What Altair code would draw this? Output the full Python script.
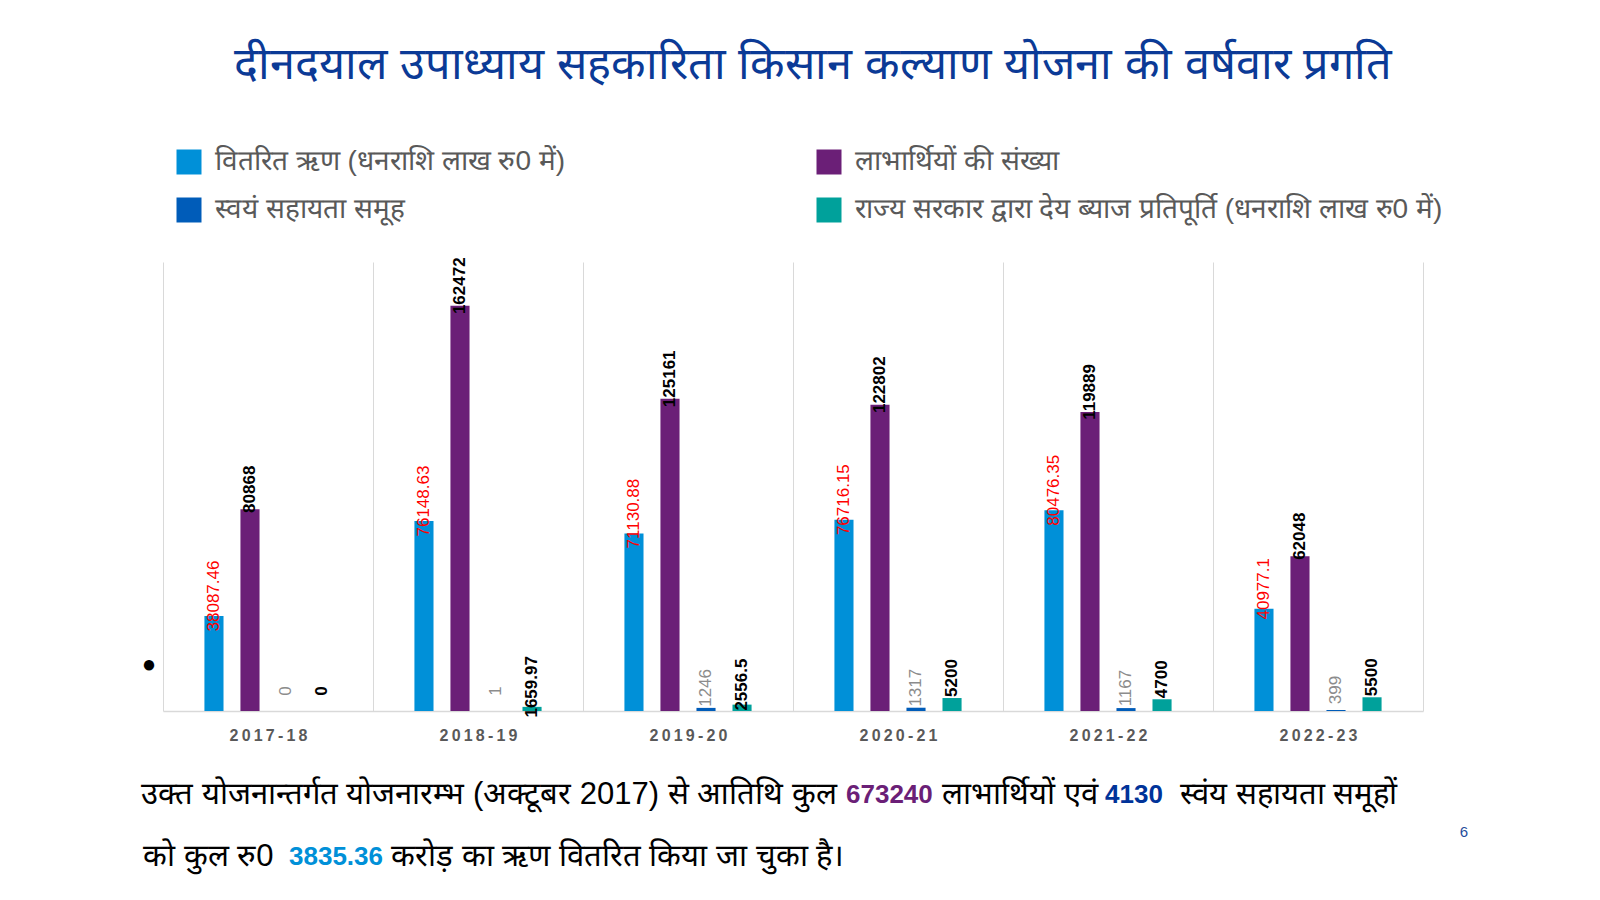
import altair as alt
import pandas as pd

years = ["2017-18", "2018-19", "2019-20", "2020-21", "2021-22", "2022-23"]
series_names = [
    "वितरित ऋण (धनराशि लाख रु0 में)",
    "लाभार्थियों की संख्या",
    "स्वयं सहायता समूह",
    "राज्य सरकार द्वारा देय ब्याज प्रतिपूर्ति (धनराशि लाख रु0 में)",
]
loan_disbursed = [38087.46, 76148.63, 71130.88, 76716.15, 80476.35, 40977.1]
beneficiaries = [80868, 162472, 125161, 122802, 119889, 62048]
shg_count = [0, 1, 1246, 1317, 1167, 399]
interest_reimb = [0, 1659.97, 2556.5, 5200, 4700, 5500]

series_colors = ["#0090d8", "#6b1f77", "#005cb9", "#00a19b"]
label_colors = ["#ff0000", "#000000", "#8c8c8c", "#000000"]
label_weights = ["normal", "bold", "normal", "bold"]

title_text = "दीनदयाल उपाध्याय सहकारिता किसान कल्याण योजना की वर्षवार प्रगति"
note1_a = "उक्त योजनान्तर्गत योजनारम्भ (अक्टूबर 2017) से आतिथि कुल"
note1_b = "673240"
note1_c = "लाभार्थियों एवं"
note1_d = "4130"
note1_e = "स्वंय सहायता समूहों"
note2_a = "को कुल रु0"
note2_b = "3835.36"
note2_c = "करोड़ का ऋण वितरित किया जा चुका है।"
page_no = "6"

all_values = [loan_disbursed, beneficiaries, shg_count, interest_reimb]
rows = []
for s, vals in zip(series_names, all_values):
    for y, v in zip(years, vals):
        rows.append({"year": y, "series": s, "value": v, "label": str(v)})
df = pd.DataFrame(rows)

W, H = 1260, 449
FONT = "Liberation Sans"

x_enc = alt.X(
    "year:N", sort=years, title=None,
    scale=alt.Scale(paddingInner=0, paddingOuter=0),
    axis=alt.Axis(
        labelFont=FONT, labelFontSize=16, labelFontWeight="bold", labelColor="#595959",
        labelPadding=16, labelAngle=0, ticks=False, domainColor="#d9d9d9", domainWidth=1.5,
        grid=True, gridColor="#d9d9d9", gridWidth=1, tickBand="extent",
        labelExpr="join(split(datum.label, ''), '\u2009')",
    ),
)
# empty slots either side of each group of four bars
offset_domain = ["_gap_left"] + series_names + ["_gap_right"]
xoff = alt.XOffset("series:N",
                   scale=alt.Scale(domain=offset_domain, paddingInner=0.47, paddingOuter=0.15))
y_enc = alt.Y("value:Q", scale=alt.Scale(domain=[0, 180000]), axis=None)

base = alt.Chart(df)
bars = base.mark_bar().encode(
    x=x_enc, xOffset=xoff, y=y_enc,
    color=alt.Color(
        "series:N", sort=series_names,
        scale=alt.Scale(domain=series_names, range=series_colors),
        legend=alt.Legend(
            orient="none", legendX=12, legendY=-114, columns=2, title=None,
            direction="horizontal",
            symbolType="square", symbolSize=625, symbolStrokeWidth=0, symbolOpacity=1,
            labelFontSize=28, labelColor="#595959", labelLimit=900, labelOffset=12,
            columnPadding=249, rowPadding=20,
        ),
    ),
)

layers = [bars]
for i, s in enumerate(series_names):
    layers.append(
        base.transform_filter(alt.datum.series == s).mark_text(
            angle=270, align="center", baseline="middle", dx=20, fontSize=17,
            font=FONT, fontWeight=label_weights[i], color=label_colors[i],
        ).encode(x=x_enc, xOffset=xoff, y=y_enc, text="label:N")
    )


def txt(text, x, y, size, color, align="left", weight="normal", font=None):
    kw = {}
    if font:
        kw["font"] = font
    return alt.Chart(pd.DataFrame({"t": [text]})).mark_text(
        align=align, baseline="middle", fontSize=size, color=color, fontWeight=weight, **kw,
    ).encode(x=alt.value(x), y=alt.value(y), text="t:N")


NS = 31
NUM = 26
layers += [
    txt(title_text, 650, -197, 45, "#0b3a96", align="center"),
    txt("●", -14, 403, 24, "#000000", align="center"),
    txt(note1_a, 674, 533, NS, "#000000", align="right"),
    txt(note1_b, 683, 533, NUM, "#6b1f77", weight="bold", font=FONT),
    txt(note1_c, 779, 533, NS, "#000000"),
    txt(note1_d, 942, 533, NUM, "#003399", weight="bold", font=FONT),
    txt(note1_e, 1017, 533, NS, "#000000"),
    txt(note2_a, -20, 595, NS, "#000000"),
    txt(note2_b, 126, 595, NUM, "#0090d8", weight="bold", font=FONT),
    txt(note2_c, 228, 595, NS, "#000000"),
    txt(page_no, 1301, 570, 15, "#1f4e9c", align="center"),
]

chart = alt.layer(*layers).properties(
    width=W, height=H,
    padding={"left": 163, "top": 262, "right": 177, "bottom": 189},
    autosize=alt.AutoSizeParams(type="none"),
    background="white",
).configure_view(stroke=None)

chart.save("out.html", embed_options={"renderer": "svg", "actions": False})
